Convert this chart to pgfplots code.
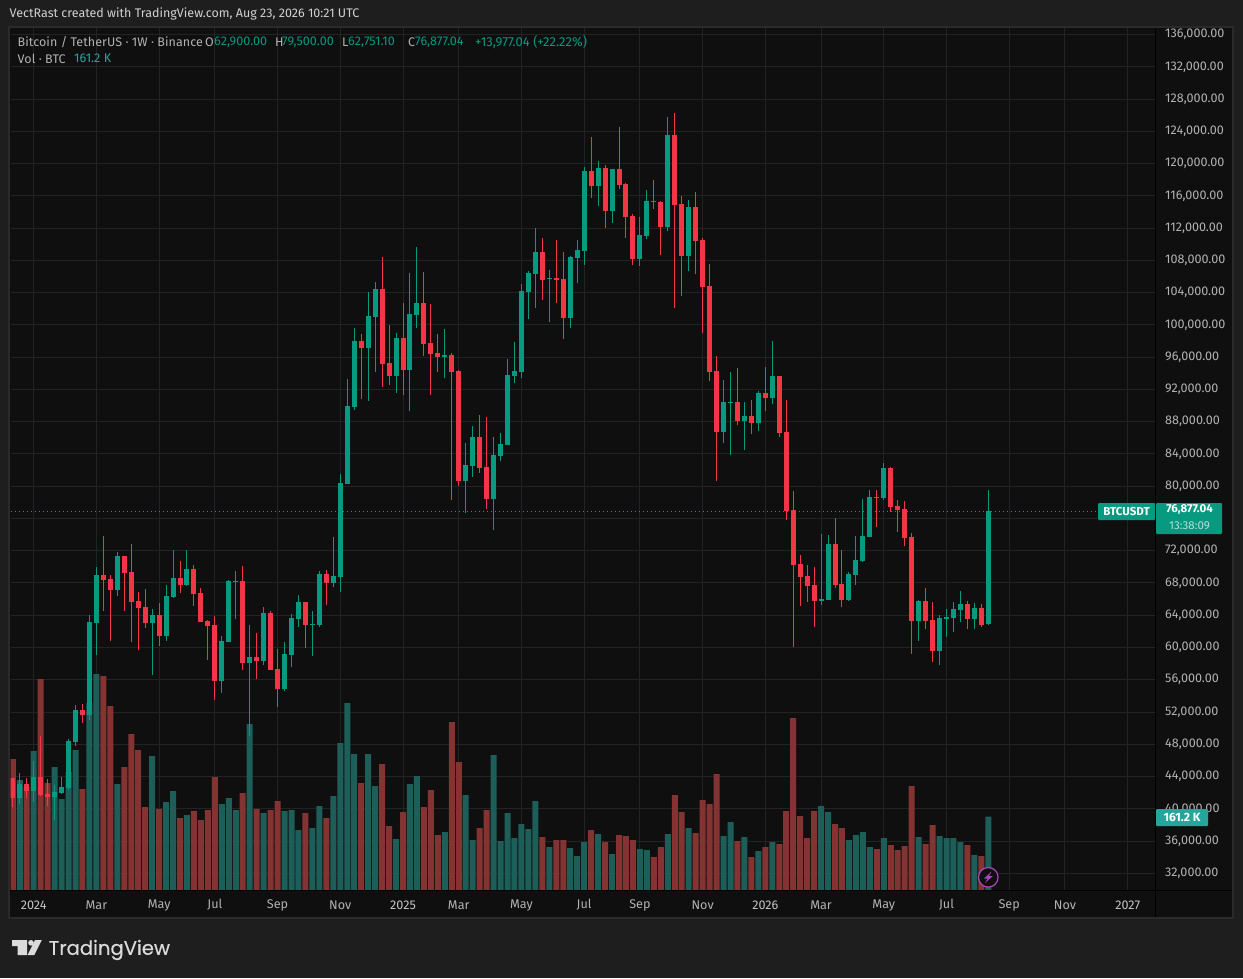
\documentclass[border=0pt]{standalone}
\usepackage{pgfplots}
\usepackage{pgfplotstable}
\pgfplotsset{compat=1.18}
\usepackage{fontspec}
\setmainfont{Fira Sans}
\newfontfamily\logofont{Poppins}[FakeBold=0.35]
\newfontfamily\lgfont{Fira Sans}[LetterSpace=0.5]
\definecolor{cup}{HTML}{089981}
\definecolor{cdn}{HTML}{F23645}
\definecolor{vup}{HTML}{1D5E59}
\definecolor{vdn}{HTML}{843333}
\definecolor{pagebg}{HTML}{1E1E1E}
\definecolor{panelbg}{HTML}{0F0F0F}
\definecolor{framec}{HTML}{2A2A2A}
\definecolor{gridc}{HTML}{232323}
\definecolor{txt}{HTML}{B2B2B2}
\definecolor{legendup}{HTML}{089981}
\definecolor{voltag}{HTML}{26A69A}
\definecolor{boltc}{HTML}{AB47BC}
\pgfplotstableread{
i lo bb bt hi vol
1 40593 41337 43073 44437 242
3 40841 42205 43941 45925 305.8
6 38609 41461 42081 42949 270.6
7 41833 41957 42701 43941 200.2
8 42329 42577 48405 48653 259.6
9 47785 48281 52249 52869 308
11 51009 51629 63161 64029 411.4
12 59069 63037 68989 69981 475.2
15 66385 67129 71345 71841 233.2
20 56589 63037 64029 64773 294.8
22 60805 61425 66385 67749 193.6
23 66137 66261 68617 72089 217.8
25 67625 67749 69733 72089 165
30 54357 55845 60805 61425 189.2
31 60681 60681 68245 68369 202.4
32 63533 68121 68245 69485 176
34 49025 58077 58821 62789 365.2
36 57829 58325 64277 65021 169.4
39 54605 54853 59193 60681 173.8
40 57581 59069 63657 64153 176
41 62541 63533 65641 66509 132
43 58945 62789 62913 64525 136.4
44 62541 62789 69113 69485 184.8
46 67501 67997 68865 73701 206.8
47 66881 68741 80397 81513 323.4
48 80273 80273 89945 93293 411.4
49 89449 89821 98005 99617 299.2
51 90565 97137 101105 104081 299.2
52 94161 100981 104453 105321 228.8
55 91557 93665 98377 98997 112.2
57 89325 94409 101353 106437 233.2
58 99617 101229 102717 109661 250.8
62 93417 96021 96269 99493 127.6
65 76677 80645 82629 85357 209
66 81141 82505 86101 87465 110
69 74569 78413 83869 86101 297
70 83125 83745 85233 86597 107.8
71 85109 85109 93789 95773 169.4
72 92797 93665 94285 97881 114.4
73 93417 94161 104205 105073 145.2
74 100733 104081 106437 106685 134.2
75 102097 106313 109041 112017 195.8
77 100361 105693 105817 106809 94.6
80 99617 100857 108421 108545 92.4
81 105197 108297 109289 110529 74.8
82 107429 109165 119085 119581 105.6
84 114745 117225 119457 120325 123.2
86 112637 114125 119333 119333 79.2
90 107305 108173 111149 113381 90.2
91 110653 111025 115365 116729 88
94 111645 112141 123549 125781 123.2
97 106685 108545 114621 115489 136.4
102 85357 86721 90441 93169 118.8
103 83869 90317 90441 94161 149.6
105 84489 88085 88705 90441 116.6
107 86845 87837 91557 91805 85.8
109 90193 90937 93665 98005 105.6
116 65269 65765 66013 74073 184.8
117 65889 65889 72833 73949 171.6
120 65765 65889 69113 69361 110
121 67749 68989 70849 73825 121
122 70601 70725 73825 78413 127.6
123 73701 73701 78661 79529 94.6
125 78289 78537 82257 82877 114.4
130 60805 63285 65765 65889 116.6
133 57829 59565 63657 64029 118.8
134 61301 63533 63781 64773 114.4
135 61921 63657 64773 65641 114.4
136 63161 64649 65393 67005 105.6
138 62293 63533 64897 65517 77
140 62751 62900 76877.04 79500 161.2
}\upweeks
\pgfplotstableread{
i lo bb bt hi vol
0 40221 41337 43817 43817 288.2
2 41337 42205 43073 43817 226.6
4 41585 41709 43941 49025 464.2
5 40345 41461 41833 43693 235.4
10 50637 51629 52249 52993 222.2
13 64525 68369 68989 73825 470.8
14 60805 67129 68493 68989 404.8
16 64525 69237 71345 71345 270.6
17 60681 65641 69361 72833 343.2
18 59689 64897 65765 66881 308
19 62417 63037 65021 67253 182.6
21 60185 61425 64029 65517 178.2
24 66757 67749 68617 70725 158.4
26 65145 66633 69733 70229 173.8
27 63161 63161 66757 67377 154
28 58449 62665 63285 63409 176
29 53489 55845 62789 63905 248.6
33 57209 58077 68245 70105 213.4
35 56093 58325 58821 61797 178.2
37 57209 57209 64277 64525 176
38 52621 54853 57333 59813 195.8
42 59937 62789 65641 65641 169.4
45 65269 67997 69113 69609 158.4
50 90813 97137 98005 98873 235.4
53 92301 95153 104453 108421 277.2
54 92549 93665 95277 99989 140.8
56 91309 94409 98377 102717 171.6
59 96145 97633 102717 106561 182.6
60 91309 96393 97757 102593 220
61 94161 96021 96517 98873 121
63 78289 94161 96269 96517 369.6
64 80025 80645 94285 94409 281.6
67 81637 82257 86101 88829 136.4
68 77173 78413 82381 88581 176
76 103089 105569 109041 110777 116.6
78 102717 105569 105817 110529 110
79 98253 100857 105693 109041 110
83 115737 117225 119085 123301 132
85 112017 114125 119457 119829 105.6
87 116853 117349 119333 124541 121
88 110777 113381 117473 117597 118.8
89 107429 108173 113505 113753 110
92 114373 115241 115365 117969 72.6
93 108669 112141 115241 115365 94.6
95 102097 114869 123549 126277 209
96 103585 108545 114993 115985 171.6
98 106313 110405 114621 116481 125.4
99 98997 104701 110529 110777 198
100 93045 94161 104825 107553 189.2
101 80645 86721 94285 96145 255.2
104 87589 88085 90441 94657 107.8
106 86473 87837 88705 90689 72.6
108 89325 90937 91557 94781 94.6
110 86101 86597 93665 93665 101.2
111 75809 76925 86721 90689 173.8
112 60061 70229 77049 79405 378.4
113 65145 68741 70353 71469 162.8
114 65641 67625 68865 70229 114.4
115 62541 65765 67749 69981 173.8
118 67377 67749 72833 76057 145.2
119 65021 65889 67873 72089 136.4
124 74941 78537 78661 79529 90.2
126 76801 77421 82257 82381 99
127 74321 77049 77545 78289 88
128 72585 73577 77173 78165 96.8
129 59193 63285 73701 74197 228.8
131 62293 63285 65765 67377 101.2
132 58201 59565 63409 65641 143
137 62293 63533 65393 65765 99
139 62541 62789 64897 65393 74.8
}\downweeks
\pgfplotsset{
  panel/.style={
    scale only axis, width=1144.5pt, height=862pt,
    at={(10.5pt,-890pt)}, anchor=south west,
    xmin=-0.33, xmax=163.92,
  },
  pricey/.style={ymin=29929, ymax=136817},
}
\newcommand{\wicks}[2]{%
  \addplot[draw=none, forget plot, error bars/.cd, y dir=plus, y explicit, error mark=none,
    error bar style={line width=1pt, color=#2}]
    table[x=i, y=lo, y error plus expr=\thisrow{hi}-\thisrow{lo}] {#1};
  \addplot[draw=none, forget plot, error bars/.cd, y dir=plus, y explicit, error mark=none,
    error bar style={line width=5pt, color=#2}]
    table[x=i, y=bb, y error plus expr=\thisrow{bt}-\thisrow{bb}] {#1};
}
\begin{document}
\fontsize{12.5pt}{14pt}\selectfont
\begin{tikzpicture}
\begin{scope}[x=1pt,y=-1pt]
  \fill[pagebg] (0,0) rectangle (1243,978);
  \fill[panelbg] (9,27) rectangle (1233,918);
  \draw[framec, line width=2pt] (9,27) rectangle (1233,918);
\end{scope}
% price scale, time scale and grid
\begin{axis}[panel, pricey,
  axis line style={draw=none}, major tick length=0pt,
  grid=both, major grid style={color=gridc, line width=1pt},
  xtick={3,12,21,29,38,47,56,64,73,82,90,99,108,116,125,134,143,151,160},
  xticklabels={{\color{txt!75!white}2024},Mar,May,Jul,Sep,Nov,{\color{txt!75!white}2025},Mar,May,Jul,Sep,Nov,{\color{txt!75!white}2026},Mar,May,Jul,Sep,Nov,{\color{txt!75!white}2027}},
  ytick={32000,36000,40000,44000,48000,52000,56000,60000,64000,68000,72000,76000,80000,84000,88000,92000,96000,100000,104000,108000,112000,116000,120000,124000,128000,132000,136000},
  yticklabel pos=right, scaled y ticks=false,
  tick label style={font=\fontsize{12.6pt}{14pt}\selectfont, text=txt, inner sep=0pt},
  yticklabel style={anchor=west, xshift=10pt,
    /pgf/number format/.cd, fixed, fixed zerofill, precision=2, 1000 sep={,}, assume math mode=true},
  xticklabel style={anchor=center, yshift=-15pt},
]
\end{axis}
% volume pane
\begin{axis}[panel, hide axis, ymin=0, ymax=1896.4, ybar, bar width=6pt, bar shift=0pt]
  \addplot[fill=vup, draw=none] table[x=i, y=vol] {\upweeks};
  \addplot[fill=vdn, draw=none] table[x=i, y=vol] {\downweeks};
\end{axis}
% candles
\begin{axis}[panel, pricey, hide axis]
  \addplot[cup, line width=0.8pt, dash pattern=on 1pt off 3pt, forget plot] coordinates {(-0.33,76877.04) (155.3,76877.04)};
  \wicks{\upweeks}{cup}
  \wicks{\downweeks}{cdn}
\end{axis}
\begin{scope}[x=1pt,y=-1pt]
  % axis separators
  \draw[black, line width=1pt] (10,890.5) -- (1232,890.5);
  \draw[black, line width=1pt] (1155.5,28) -- (1155.5,917);
  % top credit
  \node[anchor=west, inner sep=0pt, text=white!82!black] at (9.5,14) {VectRast created with TradingView.com, Aug 23, 2026 10:21 UTC};
  % legend
  \tikzset{lg/.style={anchor=west, inner sep=0pt, text=txt, font=\lgfont\fontsize{12.5pt}{14pt}\selectfont},
           lv/.style={anchor=west, inner sep=0pt, text=legendup, font=\fontsize{12.6pt}{14pt}\selectfont}}
  \node[lg] at (17.5,42) {Bitcoin / TetherUS · 1W · Binance};
  \node[lg] at (205,42) {O};
  \node[lv] at (214,42) {62,900.00};
  \node[lg] at (275,42) {H};
  \node[lv] at (282,42) {79,500.00};
  \node[lg] at (342,42) {L};
  \node[lv] at (348,42) {62,751.10};
  \node[lg] at (408,42) {C};
  \node[lv] at (415,42) {76,877.04};
  \node[lv] at (475,42) {\fontsize{13pt}{14pt}\selectfont +13,977.04 (+22.22\%)};
  \node[lg] at (17.5,58.5) {Vol · BTC};
  \node[anchor=west, inner sep=0pt, text=voltag, font=\fontsize{12.6pt}{14pt}\selectfont] at (74,58.5) {161.2 K};
  % price tags
  \fill[cup, rounded corners=1pt] (1098,503) rectangle (1155,520);
  \node[inner sep=0pt, text=white, font=\fontsize{11.5pt}{13pt}\selectfont\bfseries] at (1126.5,511.5) {BTCUSDT};
  \fill[cup, rounded corners=1pt] (1156,503) rectangle (1222,534);
  \node[inner sep=0pt, text=white, font=\fontsize{11.5pt}{13pt}\selectfont\bfseries] at (1189.5,509.5) {76,877.04};
  \node[inner sep=0pt, text=white!70!cup, font=\fontsize{11.5pt}{13pt}\selectfont] at (1189.5,525.5) {13:38:09};
  \fill[voltag, rounded corners=1pt] (1156,809) rectangle (1208,826);
  \node[inner sep=0pt, text=white, font=\fontsize{12pt}{13pt}\selectfont\bfseries] at (1182,817.5) {161.2 K};
  % bolt badge
  \draw[boltc, fill=panelbg, line width=1.2pt] (988.3,877.3) circle (9.8);
  \fill[boltc] (991.5,871.5) -- (984,878.6) -- (987.7,878.6) -- (985,883) -- (992.8,876) -- (989,876) -- cycle;
  % logo
  \fill[white!86!black] (12,940) -- (27,940) -- (27,955) -- (17.5,955) -- (17.5,946) -- (12,946) -- cycle;
  \fill[white!86!black] (31,942.8) circle (2.8);
  \fill[white!86!black] (35,940) -- (41.8,940) -- (34.3,955) -- (27.6,955) -- cycle;
  \node[anchor=west, inner sep=0pt, text=white!86!black] at (48.5,950) {\fontsize{19.6pt}{24pt}\selectfont\logofont TradingView};
\end{scope}
\end{tikzpicture}
\end{document}
